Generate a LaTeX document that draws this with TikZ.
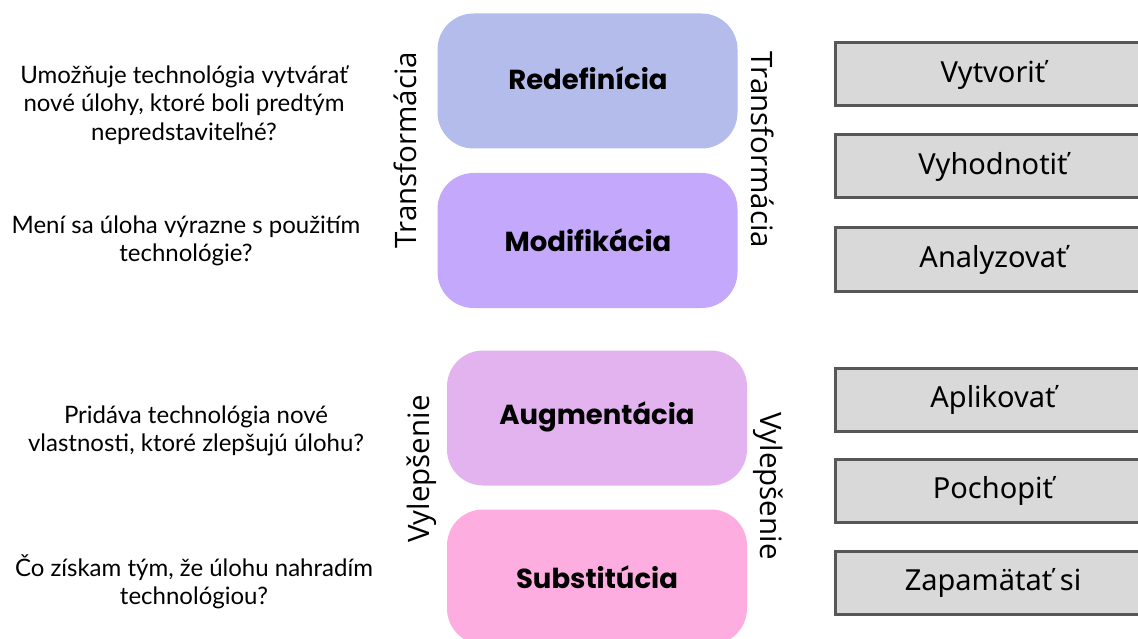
\documentclass[tikz,border=0pt]{standalone}
\usepackage{fontspec}
\setmainfont{Lato}
\newfontfamily\levelfont{Poppins}
\newfontfamily\sidefont{Open Sans}
\newfontfamily\bloomfont{Noto Sans}
\definecolor{redef}{HTML}{B3BCEB}
\definecolor{modif}{HTML}{C3A8FB}
\definecolor{augm}{HTML}{E3B3F0}
\definecolor{subst}{HTML}{FDADDF}
\definecolor{bloomfill}{HTML}{D9D9D9}
\definecolor{bloomline}{HTML}{575757}
\begin{document}
\begin{tikzpicture}[x=1pt,y=-1pt,
	level/.style={rounded corners=36pt,minimum width=300pt,minimum height=135pt,inner sep=0pt,
		font=\levelfont\bfseries\fontsize{27.5}{30}\selectfont},
	bloom/.style={draw=bloomline,line width=3pt,fill=bloomfill,minimum width=316pt,minimum height=63pt,
		inner sep=0pt,font=\bloomfont\fontsize{29}{32}\selectfont},
	question/.style={align=center,inner sep=0pt,font=\fontsize{24}{28.5}\selectfont},
	side/.style={inner sep=0pt,font=\sidefont\fontsize{29.5}{32}\selectfont}]
	\useasboundingbox (0,0) rectangle (1138,639);
	% SAMR urovne
	\node[level,fill=redef] (redef) at (587.5,81) {};
	\node[level,fill=modif] (modif) at (587.5,240.5) {};
	\node[level,fill=augm] (augm) at (597,418) {};
	\node[level,fill=subst] (subst) at (597,577) {};
	\node[level] (redeft) at (588,78) {Redefinícia};
	\node[level] (modift) at (588,240) {Modifikácia};
	\node[level] (augmt) at (597,417) {Augmentácia};
	\node[level] (substt) at (597,577) {Substitúcia};
	% bocne popisy
	\node[side,rotate=90] (transl) at (405,150) {Transformácia};
	\node[side,rotate=-90] (transr) at (763,150) {Transformácia};
	\node[side,rotate=90] (vylepl) at (422,469) {Vylepšenie};
	\node[side,rotate=-90] (vylepr) at (768,486) {Vylepšenie};
	% otazky
	\node[question] (q1) at (184,105) {Umožňuje technológia vytvárať\\nové úlohy, ktoré boli predtým\\nepredstaviteľné?};
	\node[question] (q2) at (186,241) {Mení sa úloha výrazne s použitím\\technológie?};
	\node[question] (q3) at (196,431) {Pridáva technológia nové\\vlastnosti, ktoré zlepšujú úlohu?};
	\node[question] (q4) at (194,582) {Čo získam tým, že úlohu nahradím\\technológiou?};
	% Bloomova taxonomia
	\node[bloom] (b1) at (993,74.5) {Vytvoriť};
	\node[bloom] (b2) at (993,166.5) {Vyhodnotiť};
	\node[bloom] (b3) at (993,259.5) {Analyzovať};
	\node[bloom] (b4) at (993,399.5) {Aplikovať};
	\node[bloom] (b5) at (993,490.5) {Pochopiť};
	\node[bloom] (b6) at (993,582.5) {Zapamätať si};
\end{tikzpicture}
\end{document}
